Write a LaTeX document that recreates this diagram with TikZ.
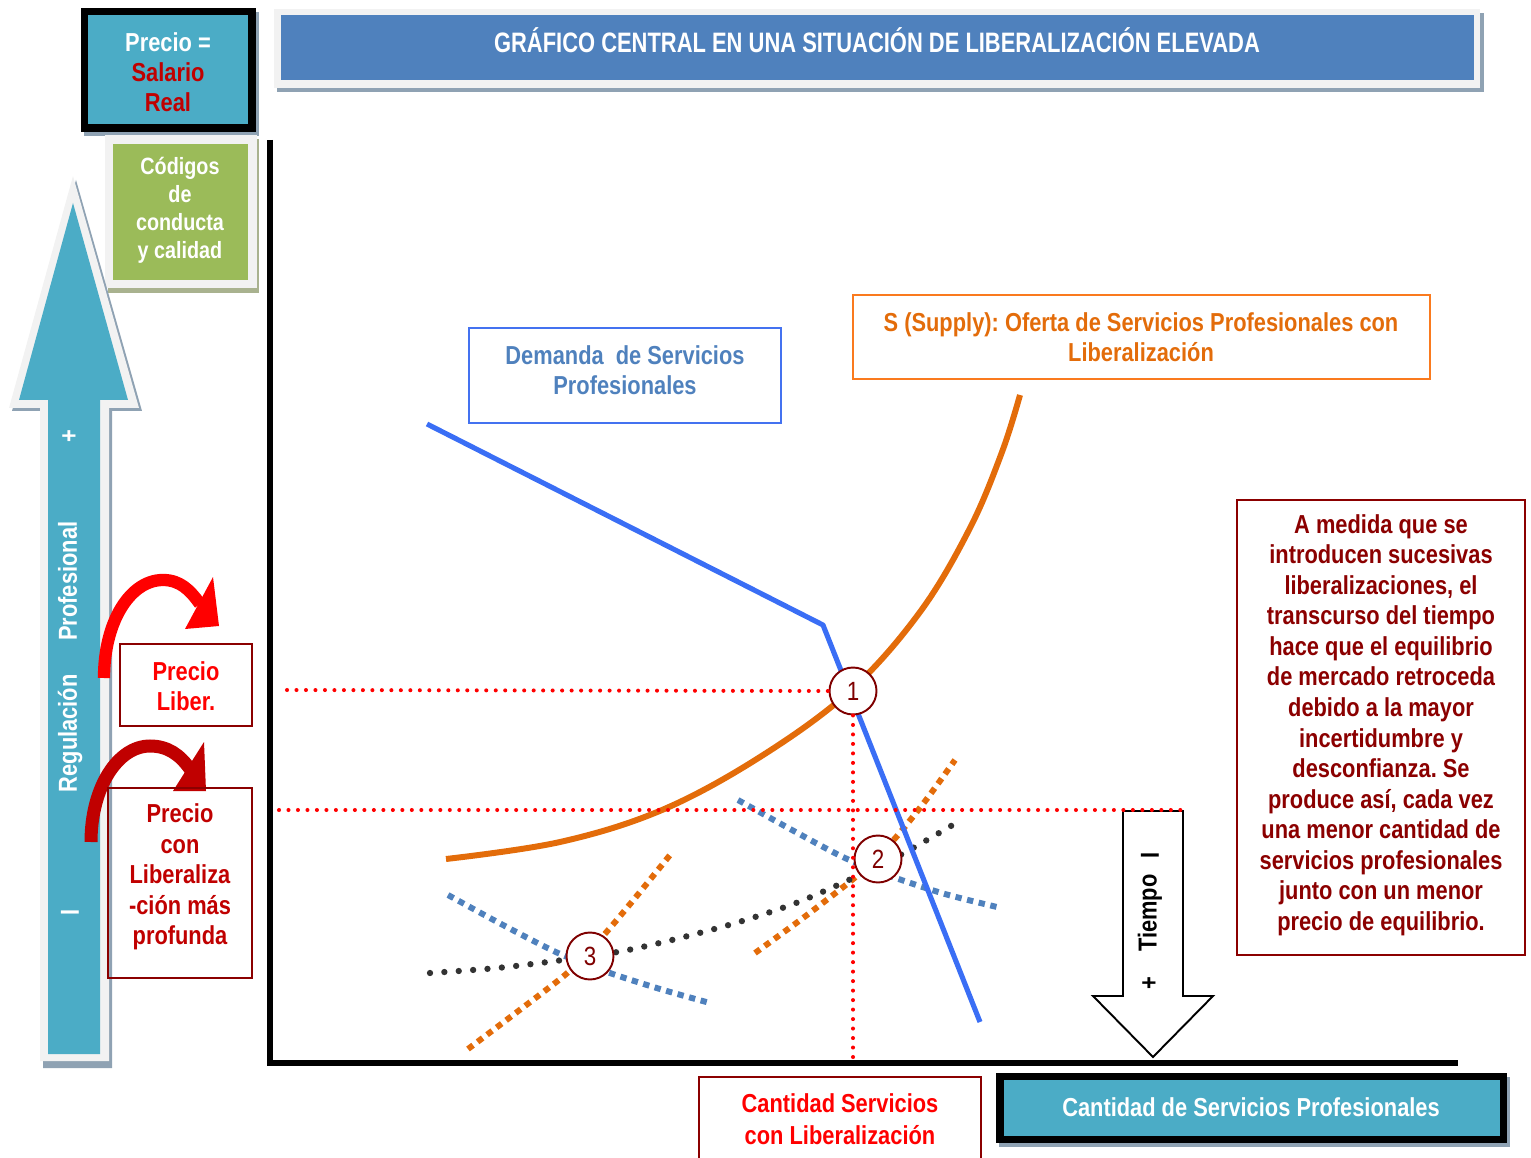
\documentclass[tikz,border=0pt]{standalone}
\usepackage{fontspec}
\setmainfont{Liberation Sans}[FakeStretch=0.84]
\newfontfamily\numfont{Liberation Sans}[FakeStretch=0.85]
\newfontfamily\narrowfont{Liberation Sans}[FakeStretch=0.78]
\definecolor{boxblue}{HTML}{4BACC6}
\definecolor{titleblue}{HTML}{4F81BD}
\definecolor{codgreen}{HTML}{9BBB59}
\definecolor{framec}{HTML}{F2F2F2}
\definecolor{shadowc}{HTML}{8FA2B3}
\definecolor{shadowg}{HTML}{A9B28F}
\definecolor{maroon2}{HTML}{8B0000}
\definecolor{deepred}{HTML}{C00000}
\definecolor{brightred}{HTML}{FF0000}
\definecolor{demline}{HTML}{3A6EF5}
\definecolor{dembox}{HTML}{4472F0}
\definecolor{demtext}{HTML}{4F81BD}
\definecolor{supline}{HTML}{E36C0A}
\definecolor{supbox}{HTML}{FA7A1E}
\definecolor{dotgray}{HTML}{333333}
\definecolor{circred}{HTML}{7F0000}
\newcommand\fsz[2]{\fontsize{#1}{#2}\selectfont}
\frenchspacing
\begin{document}
\begin{tikzpicture}[x=0.02cm,y=-0.02cm,
  txt/.style={font=\bfseries\fsz{14.8}{17.4pt},align=center,inner sep=0pt},
  circ/.style={circle,draw=circred,fill=white,line width=1.1pt,minimum size=0.94cm,inner sep=0pt,
               font=\numfont\fsz{15}{15pt},text=circred},
  reddots/.style={draw=brightred,line width=2.3pt,line cap=round,dash pattern=on 0pt off 5.4pt},
  blackdots/.style={draw=dotgray,line width=3.6pt,line cap=round,dash pattern=on 0pt off 8.2pt},
  bluedash/.style={draw=titleblue,line width=3.4pt,dash pattern=on 3.6pt off 3.2pt},
  orangedash/.style={draw=supline,line width=3.4pt,dash pattern=on 3.6pt off 3.2pt},
  redbox/.style={draw=maroon2,line width=1.1pt}
]
\useasboundingbox (0,0) rectangle (1531,1158);

% ---------- title ----------
\fill[shadowc] (277,13) rectangle (1484,92);
\fill[framec] (274,9) rectangle (1480,88);
\fill[titleblue] (281,15) rectangle (1474,80);
\node[txt,white,font=\narrowfont\bfseries\fsz{16}{19pt}] (title) at (877,40)
  {GRÁFICO CENTRAL EN UNA SITUACIÓN DE LIBERALIZACIÓN ELEVADA};

% ---------- Precio = Salario Real ----------
\fill[shadowc] (84,12) rectangle (259,136);
\fill[black] (81,8) rectangle (256,132);
\fill[boxblue] (88,15) rectangle (248,124);
\node[txt,white,font=\bfseries\fsz{14.8}{17pt}] (precio) at (168,72)
  {Precio =\\\textcolor{deepred}{Salario}\\\textcolor{deepred}{Real}};

% ---------- Codigos ----------
\fill[shadowg] (108,139) rectangle (259,293);
\fill[framec] (105,135) rectangle (257,288);
\fill[codgreen] (113,144) rectangle (248,280);
\node[txt,white,font=\bfseries\fsz{13.4}{15.9pt}] (codigos) at (180,210)
  {Códigos\\de\\conducta\\y calidad};

% ---------- big up arrow ----------
\fill[shadowc] (76,180) -- (142,411) -- (112,411) -- (112,1068) -- (43,1068) -- (43,411) -- (12,411) -- cycle;
\fill[framec] (73,176) -- (139,408) -- (109,408) -- (109,1061) -- (40,1061) -- (40,408) -- (9,408) -- cycle;
\fill[boxblue] (73,203) -- (128,400) -- (100,400) -- (100,1054) -- (48,1054) -- (48,400) -- (19,400) -- cycle;
\node[txt,white,rotate=90] (plus1) at (70,436) {+};
\node[txt,white,rotate=90] (reg) at (70,657) {Regulación\hspace{1.3em}Profesional};
\node[txt,white,rotate=90] (minus1) at (70,912) {I};

% ---------- curved red arrows ----------
\draw[brightred,line width=7pt] (104,678) .. controls (104,622) and (130,580) .. (163,580)
   .. controls (180,580) and (190,590) .. (200,604);
\fill[brightred] (213,577) -- (219,626) -- (185,629) -- cycle;
\draw[deepred,line width=7.4pt] (91,842) .. controls (91,787) and (118,746) .. (150,746)
   .. controls (168,746) and (180,755) .. (190,769);
\fill[deepred] (204,742) -- (206,791) -- (173,791) -- cycle;

% ---------- left boxes ----------
\draw[redbox] (120,644) rectangle (252,726);
\node[txt,brightred,font=\bfseries\fsz{14.8}{17pt}] (liber) at (186,686) {Precio\\Liber.};
\draw[redbox] (108,788) rectangle (252,978);
\node[txt,deepred] (profunda) at (180,877) {Precio\\con\\Liberaliza\\-ción más\\profunda};

% ---------- axes ----------
\draw[black,line width=2.9pt] (270,140) -- (270,1066);
\draw[black,line width=3.3pt] (268,1063) -- (1458,1063);

% ---------- demand / supply boxes ----------
\draw[dembox,line width=1.1pt] (469,328) rectangle (781,423);
\node[txt,demtext] (demtxt) at (625,370) {Demanda\ \ de Servicios\\Profesionales};
\draw[supbox,line width=1.1pt] (853,295) rectangle (1430,379);
\node[txt,supline] (suptxt) at (1141,337) {S (Supply): Oferta de Servicios Profesionales con\\Liberalización};

% ---------- right explanation ----------
\draw[redbox] (1237,500) rectangle (1525,955);
\node[txt,maroon2] (expl) at (1381,725) {A medida que se\\introducen sucesivas\\liberalizaciones, el\\transcurso del tiempo\\hace que el equilibrio\\de mercado retroceda\\debido a la mayor\\incertidumbre y\\desconfianza. Se\\produce así, cada vez\\una menor cantidad de\\servicios profesionales\\junto con un menor\\precio de equilibrio.};

% ---------- bottom boxes ----------
\draw[redbox] (699,1162) -- (699,1077) -- (981,1077) -- (981,1162);
\node[txt,brightred,font=\bfseries\fsz{14.8}{18pt}] (cantlib) at (840,1119) {Cantidad Servicios\\con Liberalización};
\fill[shadowc] (999,1077) rectangle (1510,1147);
\fill[black] (996,1073) rectangle (1507,1143);
\fill[boxblue] (1004,1080) rectangle (1500,1136);
\node[txt,white] (cantaxis) at (1251,1107) {Cantidad de Servicios Profesionales};

% ---------- Tiempo arrow ----------
\draw[black,fill=white,line width=1.1pt] (1123,811) -- (1183,811) -- (1183,996) -- (1213,996)
  -- (1153,1057) -- (1093,996) -- (1123,996) -- cycle;
\node[txt,black,rotate=90] (tplus) at (1150,983) {+};
\node[txt,black,rotate=90] (tiempo) at (1150,913) {Tiempo};
\node[txt,black,rotate=90] (tminus) at (1150,855) {I};

% ---------- shifted curves ----------
\draw[bluedash] plot[smooth] coordinates {(448,895) (503,925) (558,953) (607,972) (660,989) (710,1003)};
\draw[orangedash] plot[smooth] coordinates {(468,1049) (517,1012) (565,975) (590,950) (610,928) (640,892) (670,855)};
\draw[bluedash] plot[smooth] coordinates {(738,800) (792,830) (845,858) (893,877) (945,894) (997,907)};
\draw[orangedash] plot[smooth] coordinates {(755,953) (803,918) (852,880) (876,858) (898,835) (926,800) (955,760)};
\draw[blackdots] plot[smooth] coordinates {(430,973) (497,968) (563,960) (623,951) (680,938) (739,922) (796,903) (851,879) (904,853) (956,823)};

% ---------- main curves ----------
\draw[demline,line width=2.9pt,line join=round] (427,424) -- (823,625) -- (980,1022);
\draw[supline,line width=3.4pt] plot[smooth,tension=0.6] coordinates
  {(446,859) (560,842) (662,810) (760,757) (850,691) (920,612) (970,528) (1002,452) (1020,395)};

% ---------- equilibrium points ----------
\node[circ] (c1) at (853,691) {1};
\node[circ] (c2) at (878,859) {2};
\node[circ] (c3) at (590,956) {3};

% ---------- red dotted guides ----------
\coordinate (h1) at (287,690);
\coordinate (h2a) at (279,810);
\coordinate (h2b) at (1188,810);
\coordinate (vend) at (853,1066);
\draw[reddots] (h1) -- (c1.west);
\draw[reddots] (h2a) -- (h2b);
\draw[reddots] (c1.south) -- (vend);
\end{tikzpicture}
\end{document}
